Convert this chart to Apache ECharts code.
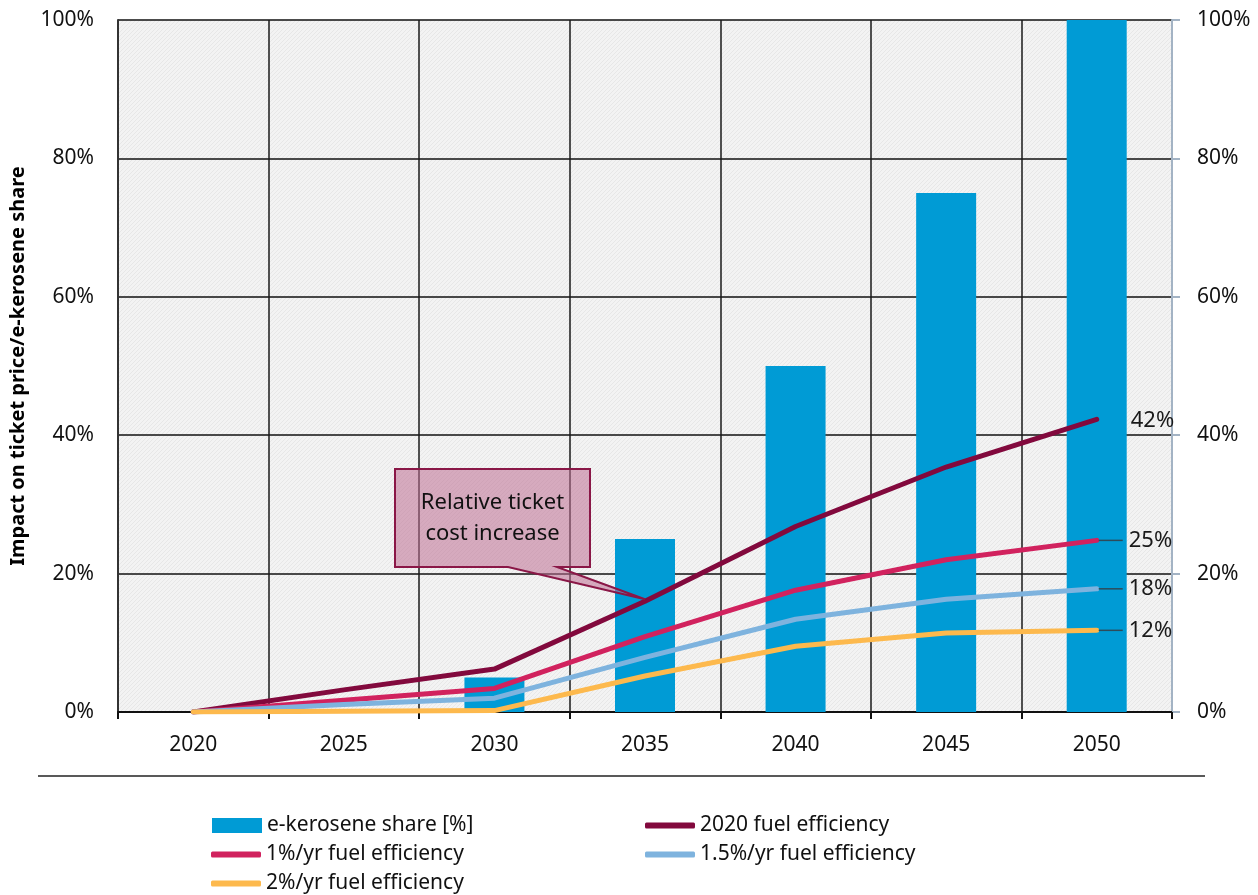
<!DOCTYPE html>
<html>
<head>
<meta charset="utf-8">
<script src="https://cdn.jsdelivr.net/npm/echarts@6/dist/echarts.min.js"></script>
<style>
  html, body { margin: 0; padding: 0; background: #fff; }
  #chart { width: 1258px; height: 895px; }
</style>
</head>
<body>
<div id="chart"></div>
<script>
var years = ['2020', '2025', '2030', '2035', '2040', '2045', '2050'];
var eKeroseneShare = [0, 0, 5, 25, 50, 75, 100];
var eff2020 = [0, 3.2, 6.2, 16, 26.8, 35.4, 42.3];
var eff1 = [0, 1.7, 3.4, 10.9, 17.6, 22, 24.8];
var eff15 = [0, 1.1, 2.0, 7.9, 13.4, 16.3, 17.8];
var eff2 = [0, 0.1, 0.2, 5.2, 9.5, 11.4, 11.8];

var font = "'Noto Sans', 'DejaVu Sans', sans-serif";

// fine diagonal hatch used as plot background
function hatch() {
  var c = document.createElement('canvas');
  c.width = 4; c.height = 4;
  var ctx = c.getContext('2d');
  ctx.fillStyle = '#f3f3f3';
  ctx.fillRect(0, 0, 4, 4);
  ctx.fillStyle = '#e7e7e7';
  for (var i = 0; i < 4; i++) ctx.fillRect(i, 3 - i, 1, 1);
  return c;
}

function lineSeries(name, data, color, showGuide) {
  return {
    name: name,
    type: 'line',
    data: data,
    symbol: 'none',
    z: 5,
    lineStyle: { color: color, width: 5, cap: 'round', join: 'round' },
    itemStyle: { color: color },
    endLabel: {
      show: true,
      distance: showGuide ? 2 : 34,
      offset: showGuide ? [0, 0] : [0, 1],
      color: '#1a1a1a',
      fontSize: 22,
      fontFamily: font,
      formatter: function(p) {
        var t = Math.round(p.value) + '%';
        return showGuide ? '{l|}{v|' + t + '}' : t;
      },
      rich: {
        l: { width: 24, height: 1.5, backgroundColor: '#2e4b5a' },
        v: { fontSize: 22, fontFamily: font, color: '#1a1a1a', padding: [0, 0, 0, 6] }
      }
    },
    emphasis: { disabled: true }
  };
}

function legendItem(name, left, top, isBar) {
  return {
    data: [{ name: name, icon: isBar ? 'rect' : 'roundRect' }],
    left: left, top: top,
    itemWidth: 50, itemHeight: isBar ? 15 : 6,
    textStyle: { fontSize: 21, fontFamily: font, color: '#111' },
    selectedMode: false
  };
}

var option = {
  animation: false,
  backgroundColor: '#fff',
  grid: {
    left: 117, right: 86, top: 20, bottom: 183,
    show: true,
    borderWidth: 0,
    backgroundColor: { image: hatch(), repeat: 'repeat' }
  },
  legend: [
    legendItem('e-kerosene share [%]', 207, 810, true),
    legendItem('2020 fuel efficiency', 640, 810, false),
    legendItem('1%/yr fuel efficiency', 206, 839, false),
    legendItem('1.5%/yr fuel efficiency', 640, 839, false),
    legendItem('2%/yr fuel efficiency', 206, 868, false)
  ],
  xAxis: {
    type: 'category',
    data: years,
    boundaryGap: true,
    axisLine: { lineStyle: { color: '#111', width: 2 } },
    axisTick: { show: true, length: 7, lineStyle: { color: '#111', width: 2 } },
    axisLabel: { fontSize: 21, fontFamily: font, color: '#111', margin: 23 },
    splitLine: { show: true, lineStyle: { color: '#1a1a1a', width: 1.5 } }
  },
  yAxis: [
    {
      type: 'value', min: 0, max: 100, interval: 20,
      name: 'Impact on ticket price/e-kerosene share',
      nameLocation: 'middle', nameGap: 90,
      nameTextStyle: { fontSize: 20, fontWeight: 'bold', fontFamily: font, color: '#000' },
      axisLine: { show: true, lineStyle: { color: '#333', width: 2 } },
      axisTick: { show: false },
      axisLabel: { formatter: '{value}%', fontSize: 21, fontFamily: font, color: '#111', margin: 24 },
      splitLine: { show: true, lineStyle: { color: '#111', width: 1.5 } }
    },
    {
      type: 'value', min: 0, max: 100, interval: 20, position: 'right',
      axisLine: { show: true, lineStyle: { color: '#a3b3c4', width: 2 } },
      axisTick: { show: true, length: 8, lineStyle: { color: '#a3b3c4', width: 2 } },
      axisLabel: { formatter: '{value}%', fontSize: 21, fontFamily: font, color: '#111', margin: 25 },
      splitLine: { show: false }
    }
  ],
  series: [
    {
      name: 'e-kerosene share [%]',
      type: 'bar',
      data: eKeroseneShare,
      barWidth: 60,
      z: 3,
      itemStyle: { color: '#009bd5' },
      emphasis: { disabled: true }
    },
    lineSeries('2020 fuel efficiency', eff2020, '#82093d', false),
    lineSeries('1%/yr fuel efficiency', eff1, '#d1225e', true),
    lineSeries('1.5%/yr fuel efficiency', eff15, '#7eb3de', true),
    lineSeries('2%/yr fuel efficiency', eff2, '#fdb94d', true)
  ]
};

var chart = echarts.init(document.getElementById('chart'));
chart.setOption(option);

// callout pointing at the 2020-efficiency line in 2035, plus separator line
var tip = chart.convertToPixel({ seriesIndex: 1 }, ['2035', eff2020[3]]);
var bx = 395, by = 469, bw = 195, bh = 98;
chart.setOption({
  graphic: [
    {
      type: 'polygon', z: 10,
      shape: {
        points: [
          [bx, by], [bx + bw, by], [bx + bw, by + bh], [bx + 162, by + bh],
          [tip[0], tip[1] - 2], [bx + 113, by + bh], [bx, by + bh]
        ]
      },
      style: { fill: 'rgba(190,110,145,0.55)', stroke: '#8a1747', lineWidth: 2 }
    },
    {
      type: 'text', z: 11,
      x: bx + bw / 2, y: by + 18,
      style: {
        text: 'Relative ticket\ncost increase',
        align: 'center', verticalAlign: 'top',
        font: "22px 'Noto Sans', sans-serif", fill: '#111', lineHeight: 31
      }
    },
    {
      type: 'line', z: 1,
      shape: { x1: 38, y1: 776, x2: 1205, y2: 776 },
      style: { stroke: '#222', lineWidth: 1.5 }
    }
  ]
});
</script>
</body>
</html>
